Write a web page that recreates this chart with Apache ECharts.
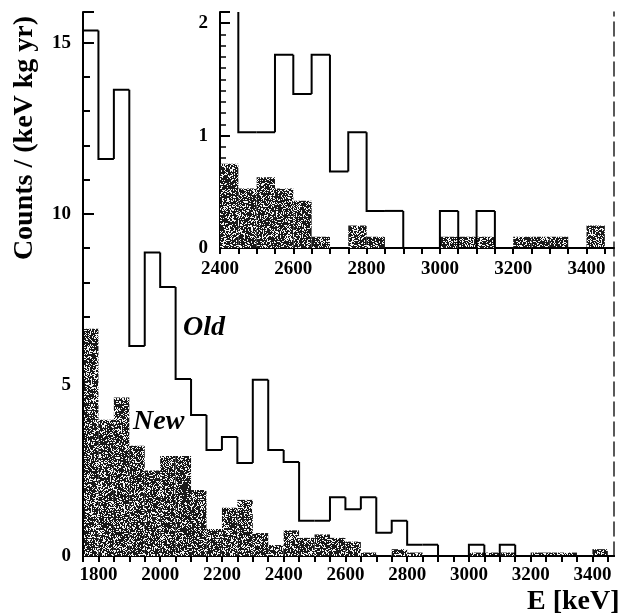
<!DOCTYPE html>
<html>
<head>
<meta charset="utf-8">
<script src="https://cdn.jsdelivr.net/npm/echarts@6/dist/echarts.min.js"></script>
<style>html,body{margin:0;padding:0;background:#fff;}#c{width:620px;height:614px;}</style>
</head>
<body>
<div id="c"></div>
<script>
// Bin left edges (keV), 50 keV wide
const binStarts = [1750,1800,1850,1900,1950,2000,2050,2100,2150,2200,2250,2300,2350,2400,2450,2500,2550,2600,2650,2700,2750,2800,2850,2900,2950,3000,3050,3100,3150,3200,3250,3300,3350,3400];
const binWidth = 50;
// "Old" spectrum (outline)
const oldCounts = [15.36,11.6,13.63,6.14,8.87,7.86,5.17,4.12,3.1,3.48,2.72,5.15,3.1,2.75,1.03,1.03,1.72,1.37,1.72,0.68,1.03,0.33,0.33,0,0,0.33,0,0.33,0,0,0,0,0,0];
// "New" spectrum (filled)
const newCounts = [6.64,3.98,4.63,3.22,2.5,2.92,2.92,1.93,0.79,1.41,1.64,0.67,0.32,0.75,0.53,0.63,0.53,0.42,0.1,0,0.2,0.1,0,0,0,0.1,0.1,0.1,0,0.1,0.1,0.1,0,0.2];
const mainYTicks = [0,5,10,15];
const insetYTicks = [0,1,2];
const xLabelStep = 200;

const FONT = 'Liberation Serif';

// stipple texture (deterministic)
function makeTexture(){
  const n = 128;
  const c = document.createElement('canvas');
  c.width = n; c.height = n;
  const ctx = c.getContext('2d');
  const img = ctx.createImageData(n, n);
  let s = 987654321;
  for (let i = 0; i < n*n; i++) {
    s = (s * 1103515245 + 12345) % 2147483648;
    const r = s / 2147483648;
    const v = r < 0.30 ? 245 : 25;
    img.data[i*4] = v; img.data[i*4+1] = v; img.data[i*4+2] = v; img.data[i*4+3] = 255;
  }
  ctx.putImageData(img, 0, 0);
  return c;
}
const texture = makeTexture();

function buildNew(minX){
  const out = [];
  binStarts.forEach((x0, i) => { if (x0 >= minX) out.push([x0, x0 + binWidth, newCounts[i]]); });
  return out;
}
function buildOld(minX){
  const out = [];
  let last = -1;
  binStarts.forEach((x0, i) => { if (x0 >= minX) last = i; });
  binStarts.forEach((x0, i) => {
    if (x0 >= minX) out.push([x0, x0 + binWidth, oldCounts[i], i > 0 ? oldCounts[i-1] : 0, i === last ? 1 : 0]);
  });
  return out;
}

function renderNew(params, api){
  const x0 = api.value(0), x1 = api.value(1), y = api.value(2);
  if (!(y > 0)) return;
  const p0 = api.coord([x0, y]);
  const p1 = api.coord([x1, 0]);
  return {type:'rect', shape:{x:p0[0], y:p0[1], width:p1[0]-p0[0], height:p1[1]-p0[1]},
    style:{fill:{image:texture, repeat:'repeat'}, stroke:null}};
}
function renderOld(params, api){
  const x0 = api.value(0), x1 = api.value(1), y = api.value(2), yp = api.value(3), isLast = api.value(4);
  const pts = [api.coord([x0, yp]), api.coord([x0, y]), api.coord([x1, y])];
  if (isLast) pts.push(api.coord([x1, 0]));
  return {type:'polyline', shape:{points:pts}, style:{stroke:'#000', lineWidth:2, fill:null, lineJoin:'miter'}};
}

const labelStyle = {color:'#000', fontFamily:FONT, fontWeight:'bold', fontSize:19};
const axisLine = {show:true, lineStyle:{color:'#000', width:2}};

const chart = echarts.init(document.getElementById('c'), null, {renderer:'canvas'});
chart.setOption({
  animation:false,
  backgroundColor:'#fff',
  grid:[
    {left:83, right:6, top:12, bottom:58},
    {left:220, right:6, top:12, bottom:366}
  ],
  xAxis:[
    {type:'value', gridIndex:0, min:1750, max:3470, interval:50, position:'bottom',
     axisLine:axisLine, splitLine:{show:false},
     axisTick:{show:true, length:6, inside:false, lineStyle:{color:'#000', width:2}},
     axisLabel:Object.assign({}, labelStyle, {interval:0, margin:10, showMaxLabel:false,
       formatter:v => (v % xLabelStep === 0 ? String(v) : '')})},
    {type:'value', gridIndex:0, min:1750, max:3470, position:'top',
     axisLine:axisLine, axisTick:{show:false}, axisLabel:{show:false}, splitLine:{show:false}},
    {type:'value', gridIndex:1, min:2400, max:3475, interval:50, position:'bottom',
     axisLine:axisLine, splitLine:{show:false},
     axisTick:{show:true, length:6, inside:false, lineStyle:{color:'#000', width:2}},
     axisLabel:Object.assign({}, labelStyle, {interval:0, margin:12, showMaxLabel:false,
       formatter:v => (v % xLabelStep === 0 ? String(v) : '')})}
  ],
  yAxis:[
    {type:'value', gridIndex:0, min:0, max:15.9, interval:5, position:'left',
     axisLine:axisLine, splitLine:{show:false},
     axisTick:{show:true, inside:true, length:11, lineStyle:{color:'#000', width:2}},
     minorTick:{show:true, splitNumber:5, length:7, lineStyle:{color:'#000', width:2}},
     axisLabel:Object.assign({}, labelStyle, {margin:12, showMaxLabel:false,
       formatter:v => (mainYTicks.indexOf(v) >= 0 ? String(v) : '')})},
    {type:'value', gridIndex:0, min:0, max:15.9, position:'right',
     axisLine:{show:true, lineStyle:{color:'#222', width:1.5, type:[14,6]}},
     axisTick:{show:false}, axisLabel:{show:false}, splitLine:{show:false}},
    {type:'value', gridIndex:1, min:0, max:2.1, interval:1, position:'left',
     axisLine:axisLine, splitLine:{show:false},
     axisTick:{show:true, inside:true, length:10, lineStyle:{color:'#000', width:2}},
     minorTick:{show:true, splitNumber:10, length:6, lineStyle:{color:'#000', width:1.5}},
     axisLabel:Object.assign({}, labelStyle, {margin:12, showMaxLabel:false,
       formatter:v => (insetYTicks.indexOf(v) >= 0 ? String(v) : '')})}
  ],
  series:[
    {type:'custom', name:'New', xAxisIndex:0, yAxisIndex:0, clip:true, z:2,
     renderItem:renderNew, encode:{x:[0,1], y:2}, data:buildNew(1750)},
    {type:'custom', name:'Old', xAxisIndex:0, yAxisIndex:0, clip:true, z:3,
     renderItem:renderOld, encode:{x:[0,1], y:2}, data:buildOld(1750)},
    {type:'custom', name:'New inset', xAxisIndex:2, yAxisIndex:2, clip:true, z:4,
     renderItem:renderNew, encode:{x:[0,1], y:2}, data:buildNew(2400)},
    {type:'custom', name:'Old inset', xAxisIndex:2, yAxisIndex:2, clip:true, z:5,
     renderItem:renderOld, encode:{x:[0,1], y:2}, data:buildOld(2400)}
  ],
  graphic:[
    {type:'text', left:null, x:25, y:138, rotation:Math.PI/2, z:10,
     style:{text:'Counts / (keV kg yr)', fill:'#000', font:'bold 28px "Liberation Serif"', textAlign:'center', textVerticalAlign:'middle'}},
    {type:'text', x:183, y:328, z:10,
     style:{text:'Old', fill:'#000', font:'italic bold 28px "Liberation Serif"', textAlign:'left', textVerticalAlign:'middle'}},
    {type:'text', x:133, y:422, z:10,
     style:{text:'New', fill:'#000', font:'italic bold 28px "Liberation Serif"', textAlign:'left', textVerticalAlign:'middle'}},
    {type:'text', x:527, y:602, z:10,
     style:{text:'E [keV]', fill:'#000', font:'bold 28px "Liberation Serif"', textAlign:'left', textVerticalAlign:'middle'}}
  ]
});
</script>
</body>
</html>
